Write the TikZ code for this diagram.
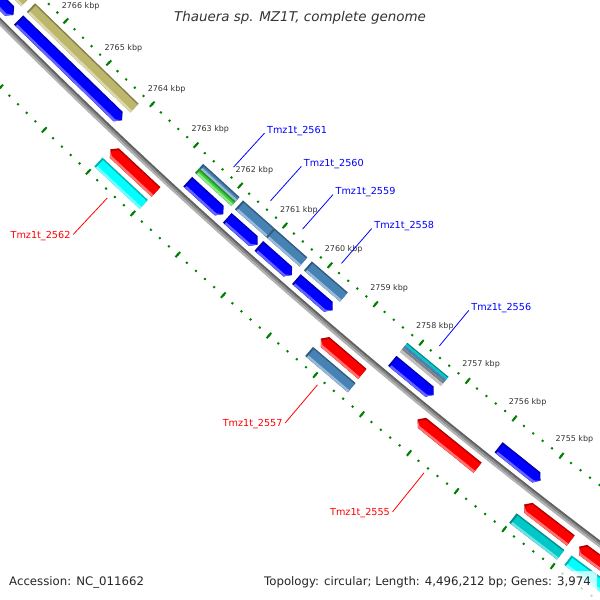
\documentclass[tikz,border=0pt]{standalone}
\usepackage{fontspec}
\setmainfont{DejaVu Sans}

\definecolor{steel}{RGB}{70,130,180}
\definecolor{khaki}{RGB}{189,183,107}
\definecolor{limeg}{RGB}{50,205,50}
\definecolor{teal2}{RGB}{0,200,200}
\definecolor{cyanish}{RGB}{0,255,255}
\definecolor{tickgreen}{RGB}{0,128,0}
\definecolor{textgrey}{RGB}{51,51,51}

% box on a ring: kbp from, kbp to, inner radius, outer radius, colour
\newcommand{\featbox}[5]{%
  \fill[#5!70!black] ({ang(#1)}:#3) -- ({ang(#2)}:#3) -- ({ang(#2)}:#4) -- ({ang(#1)}:#4) -- cycle;
  \fill[#5] ({ang(#1-0.035)}:{#3+1.5}) -- ({ang(#2)}:{#3+1.5}) -- ({ang(#2)}:#4) -- ({ang(#1-0.035)}:#4) -- cycle;
  \fill[#5!55!white] ({ang(#1-0.035)}:{#4-2.5}) -- ({ang(#2)}:{#4-2.5}) -- ({ang(#2)}:#4) -- ({ang(#1-0.035)}:#4) -- cycle;
}
\newcommand{\stripe}[5]{%
  \fill[#5] ({ang(#1)}:#3) -- ({ang(#2)}:#3) -- ({ang(#2)}:#4) -- ({ang(#1)}:#4) -- cycle;
}
% forward gene, tip at #2
\newcommand{\fwdarrow}[4]{%
  \fill[blue!70!black] ({ang(#1)}:#3) -- ({ang(#2+0.09)}:#3) -- ({ang(#2)}:{(#3+#4)/2}) -- ({ang(#2+0.09)}:#4) -- ({ang(#1)}:#4) -- cycle;
  \fill[blue] ({ang(#1-0.035)}:{#3+1.5}) -- ({ang(#2+0.09)}:{#3+1.5}) -- ({ang(#2+0.01)}:{(#3+#4)/2}) -- ({ang(#2+0.09)}:#4) -- ({ang(#1-0.035)}:#4) -- cycle;
  \fill[blue!60!white] ({ang(#1-0.035)}:{#4-2.5}) -- ({ang(#2+0.09)}:{#4-2.5}) -- ({ang(#2)}:{(#3+#4)/2}) -- ({ang(#2+0.09)}:#4) -- ({ang(#1-0.035)}:#4) -- cycle;
}
% reverse gene, tip at #1
\newcommand{\revarrow}[4]{%
  \fill[red!70!black] ({ang(#1)}:{(#3+#4)/2}) -- ({ang(#1-0.09)}:#3) -- ({ang(#2)}:#3) -- ({ang(#2)}:#4) -- ({ang(#1-0.09)}:#4) -- cycle;
  \fill[red] ({ang(#1-0.035)}:{(#3+#4)/2}) -- ({ang(#1-0.11)}:{#3+1.5}) -- ({ang(#2)}:{#3+1.5}) -- ({ang(#2)}:#4) -- ({ang(#1-0.09)}:#4) -- cycle;
  \fill[red!55!white] ({ang(#1)}:{(#3+#4)/2}) -- ({ang(#1-0.09)}:#4) -- ({ang(#2)}:#4) -- ({ang(#2)}:{#4-2.5}) -- ({ang(#1-0.09)}:{#4-2.5}) -- cycle;
}

\tikzset{
  kbplabel/.style={font=\fontsize{8}{9}\selectfont, text=textgrey, inner sep=0pt},
  genetag/.style={font=\fontsize{9.7}{11}\selectfont, inner sep=0pt},
  calloutline/.style={line width=0.8pt},
  tickmark/.style={tickgreen, line width=2bp}
}

\begin{document}
\begin{tikzpicture}[x=1bp,y=-1bp,line cap=butt,
    declare function={ang(\k)=134.56-(2766-\k)*0.6027;}]
  \useasboundingbox (0,0) rectangle (600,600);
  \clip (0,0) rectangle (600,600);
  \fill[white] (0,0) rectangle (600,600);

  \begin{scope}[shift={(4065.8,-4040.9)}]
    % backbone
    \draw[line width=2.2, color=black!62] ({ang(2769)}:5746) arc[start angle={ang(2769)}, end angle={ang(2751)}, radius=5746];
    \draw[line width=2.2, color=black!45] ({ang(2769)}:5748) arc[start angle={ang(2769)}, end angle={ang(2751)}, radius=5748];
    \draw[line width=2, color=black!30] ({ang(2769)}:5750) arc[start angle={ang(2769)}, end angle={ang(2751)}, radius=5750];

    % forward strand
    \fwdarrow{2768.2}{2766.69}{5727}{5740}
    \fwdarrow{2766.57}{2764.18}{5727}{5740}
    \fwdarrow{2762.69}{2761.89}{5727}{5740}
    \fwdarrow{2761.80}{2761.13}{5727}{5740}
    \fwdarrow{2761.10}{2760.37}{5727}{5740}
    \fwdarrow{2760.27}{2759.48}{5727}{5740}
    \fwdarrow{2758.18}{2757.29}{5727}{5740}
    \fwdarrow{2755.91}{2755.02}{5727}{5740}

    % COG, forward
    \featbox{2768.2}{2766.70}{5710}{5722}{khaki}
    \featbox{2766.57}{2764.17}{5710}{5722}{khaki}
    \featbox{2762.70}{2761.88}{5710}{5716}{steel}
    \featbox{2762.70}{2761.88}{5716}{5722}{limeg}
    \featbox{2761.80}{2761.11}{5710}{5722}{steel}
    \featbox{2761.11}{2760.37}{5710}{5722}{steel}
    \featbox{2760.27}{2759.48}{5710}{5722}{steel}
    \stripe{2758.18}{2757.29}{5710}{5711.5}{teal2!70!black}
    \stripe{2758.18}{2757.29}{5711.5}{5713.5}{teal2}
    \stripe{2758.18}{2757.29}{5713.5}{5716.5}{steel}
    \stripe{2758.18}{2757.29}{5716.5}{5719}{gray}
    \stripe{2758.18}{2757.29}{5719}{5722}{lightgray}

    % reverse strand
    \revarrow{2763.99}{2762.96}{5756}{5769}
    \revarrow{2759.32}{2758.42}{5756}{5769}
    \revarrow{2757.24}{2755.97}{5756}{5769}
    \revarrow{2754.99}{2754.02}{5756}{5769}
    \revarrow{2753.85}{2751.5}{5756}{5769}

    % COG, reverse
    \featbox{2763.99}{2762.97}{5774}{5786}{cyanish}
    \featbox{2759.33}{2758.41}{5774}{5786}{steel}
    \featbox{2755.00}{2754.01}{5774}{5786}{teal2}
    \featbox{2753.86}{2751.5}{5774}{5786}{cyanish}

    % ticks
    \foreach \i in {0,...,90} {
      \draw[tickmark] ({ang(2769-0.2*\i)}:5700) -- ({ang(2769-0.2*\i)}:5702);
      \draw[tickmark] ({ang(2769-0.2*\i)}:5793) -- ({ang(2769-0.2*\i)}:5795);
    }
    \foreach \k in {2751,...,2769} {
      \draw[tickmark] ({ang(\k)}:5697.5) -- ({ang(\k)}:5704.5);
      \draw[tickmark] ({ang(\k)}:5790.5) -- ({ang(\k)}:5797.5);
    }
    \foreach \k in {2755,...,2766}
      \node[kbplabel] (kbp\k) at ({ang(\k)}:5680) {\k\ kbp};

    % gene labels
    \foreach \g/\m in {2561/2762.29, 2560/2761.455, 2559/2760.74, 2558/2759.875, 2556/2757.735} {
      \coordinate (s\g) at ({ang(\m)}:5692);
      \coordinate (e\g) at ({ang(\m)}:5646);
      \node[genetag, text=blue, anchor=base west, xshift=2.5bp] (t\g) at (e\g) {Tmz1t\_\g};
      \draw[calloutline, blue] (s\g) -- (e\g);
    }
    \foreach \g/\m in {2562/2763.48, 2557/2758.87, 2555/2756.605} {
      \coordinate (s\g) at ({ang(\m)}:5800);
      \coordinate (e\g) at ({ang(\m)}:5850);
      \node[genetag, text=red, anchor=east, xshift=-2.5bp, yshift=-1bp] (t\g) at (e\g) {Tmz1t\_\g};
      \draw[calloutline, red] (s\g) -- (e\g);
    }
  \end{scope}

  \node[text=textgrey] (title) at (300,18) {\fontsize{13.5}{16}\selectfont\itshape Thauera sp. MZ1T, complete genome};
  \fill[white, opacity=0.75] (255,571) rectangle (597,597);
  \node[anchor=west, inner sep=0pt, text=black!85] (acc) at (9,582) {\fontsize{11.8}{14}\selectfont Accession: NC\_011662};
  \node[anchor=east, inner sep=0pt, text=black!85] (topo) at (591,582) {\fontsize{11.8}{14}\selectfont Topology: circular; Length: 4,496,212 bp; Genes: 3,974};
\end{tikzpicture}
\end{document}
